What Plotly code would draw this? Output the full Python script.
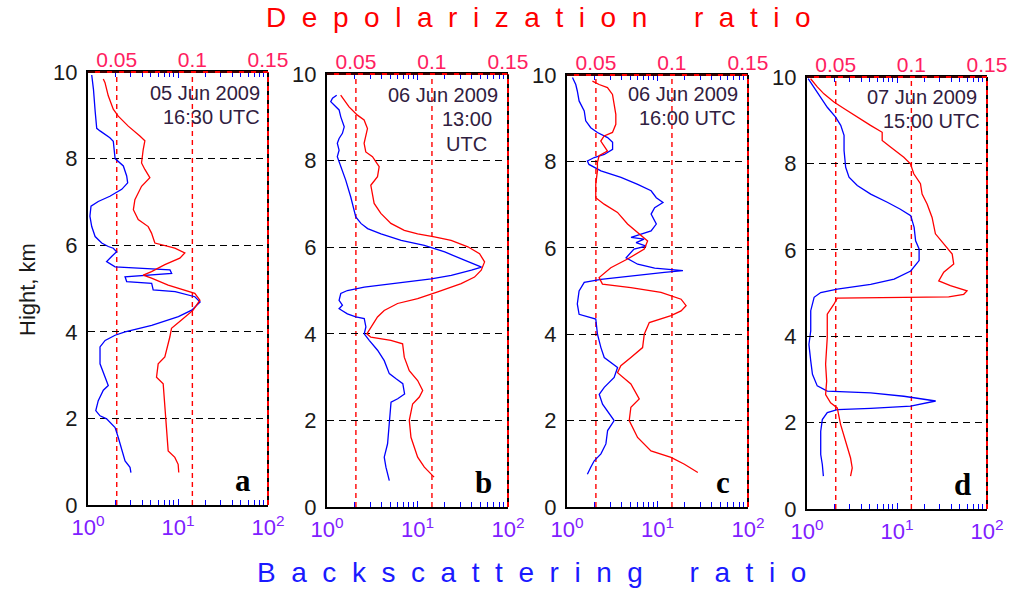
import plotly.graph_objects as go

W, H = 1015, 592

# ---------------- data ----------------
# Panel a: 05 Jun 2009 16:30 UTC
a_bsr_h = [9.93,9.6,9.1,8.7,8.64,8.48,8.4,8.2,8.0,7.83,7.6,7.44,7.29,7.13,7.01,6.9,6.67,6.43,6.2,6.05,
           5.97,5.93,5.85,5.74,5.62,5.5,5.43,5.35,5.27,5.16,5.12,4.97,4.93,4.81,4.69,4.5,4.35,4.15,4.0,3.92,
           3.8,3.65,3.26,2.95,2.76,2.65,2.41,2.18,2.06,1.99,1.79,1.56,1.25,1.02,0.87,0.75]
a_bsr = [1.10,1.15,1.20,1.25,1.36,1.75,1.91,1.96,2.0,2.47,2.69,2.76,2.37,1.75,1.30,1.08,1.05,1.10,1.20,1.42,
         1.68,1.91,2.08,1.83,1.61,2.0,8.15,8.5,2.58,2.69,5.1,5.3,9.3,15.4,17.6,14.2,10.1,5.1,2.58,2.0,
         1.55,1.36,1.36,1.55,1.68,1.48,1.30,1.22,1.36,1.61,2.0,2.17,2.37,2.58,2.93,3.0]
a_dep_h = [9.84,9.76,9.45,9.14,8.98,8.75,8.52,8.41,8.21,7.9,7.75,7.56,7.36,7.05,6.82,6.59,6.43,6.28,6.05,5.93,
           5.82,5.7,5.55,5.39,5.31,5.24,5.08,4.97,4.89,4.73,4.5,4.27,4.08,3.88,3.42,3.26,2.95,2.8,2.34,1.72,
           1.25,1.1,0.94,0.75]
a_dep = [0.0411,0.0422,0.0444,0.0477,0.051,0.0576,0.0653,0.0686,0.0675,0.0664,0.0686,0.0719,0.0664,0.062,0.061,
         0.0642,0.0708,0.073,0.0752,0.0884,0.095,0.0917,0.0818,0.073,0.0675,0.073,0.084,0.095,0.1016,0.105,
         0.1005,0.0928,0.0862,0.0851,0.0818,0.0774,0.0763,0.0807,0.0818,0.0829,0.084,0.0884,0.0906,0.091]

# Panel b: 06 Jun 2009 13:00 UTC
b_bsr_h = [9.51,9.44,9.36,9.28,9.17,9.01,8.78,8.63,8.51,8.4,8.24,8.09,7.86,7.55,7.16,6.85,6.7,6.55,6.43,6.31,
           6.16,6.04,5.89,5.7,5.54,5.47,5.35,5.27,5.16,5.08,5.0,4.93,4.77,4.66,4.58,4.46,4.39,4.35,4.16,4.0,
           3.85,3.62,3.38,3.08,2.96,2.85,2.61,2.5,2.42,2.0,1.46,1.15,0.92,0.61]
b_bsr = [1.28,1.15,1.10,1.20,1.36,1.42,1.55,1.48,1.36,1.30,1.36,1.30,1.42,1.61,1.83,2.0,2.08,2.37,2.81,3.95,
         6.6,11.9,20,33,51,39.5,23.6,14.2,5.1,2.58,1.68,1.42,1.36,1.48,1.36,1.68,2.08,2.58,2.69,2.58,
         2.93,3.62,4.29,4.88,5.8,6.88,7.2,6.04,5.1,4.88,4.67,4.29,4.48,4.88]
b_dep_h = [9.51,9.4,9.24,9.05,8.94,8.74,8.55,8.4,8.2,8.09,7.86,7.63,7.43,7.24,7.01,6.78,6.55,6.39,6.31,6.24,
           6.16,6.01,5.85,5.66,5.47,5.31,5.16,4.97,4.81,4.7,4.54,4.39,4.16,4.0,3.92,3.85,3.77,3.46,3.15,2.92,
           2.69,2.54,2.38,2.0,1.61,1.15,0.92,0.69]
b_dep = [0.040,0.0422,0.0455,0.051,0.0554,0.0576,0.0565,0.0554,0.0565,0.0609,0.0653,0.0642,0.0598,0.0609,0.062,
         0.0664,0.073,0.0818,0.0906,0.1016,0.1126,0.1236,0.1313,0.1346,0.1324,0.128,0.1192,0.1038,0.0906,0.0774,
         0.0686,0.0642,0.0598,0.0572,0.0598,0.073,0.0807,0.0818,0.0851,0.0906,0.0939,0.0917,0.0873,0.0851,0.0862,
         0.0906,0.095,0.1014]

# Panel c: 06 Jun 2009 16:00 UTC
c_bsr_h = [9.94,9.78,9.63,9.4,9.17,8.94,8.78,8.67,8.55,8.44,8.28,8.16,8.09,8.01,7.93,7.78,7.63,7.47,7.32,7.16,
           7.05,6.93,6.78,6.55,6.39,6.31,6.24,6.2,6.12,6.04,5.97,5.77,5.62,5.53,5.47,5.43,5.35,5.27,5.2,5.0,
           4.7,4.46,4.35,4.0,3.69,3.46,3.23,3.0,2.77,2.61,2.38,2.15,2.0,1.77,1.46,1.23,1.07,0.92,0.76]
c_bsr = [1.15,1.25,1.30,1.36,1.55,1.61,1.83,2.17,2.81,3.19,3.19,2.58,2.0,1.68,1.75,2.37,3.95,6.04,8.5,9.7,
         11.5,9.3,8.5,9.7,8.5,6.6,5.1,7.1,5.8,7.5,5.5,4.5,6.04,9.3,19.1,11.9,5.1,2.37,1.55,1.36,
         1.30,1.36,2.08,2.17,2.37,2.58,3.62,3.32,2.58,2.27,2.47,2.93,3.32,2.81,2.69,2.37,2.0,1.83,1.68]
c_dep_h = [9.86,9.78,9.71,9.55,9.32,9.09,8.86,8.67,8.59,8.47,8.24,8.13,7.97,7.78,7.47,7.16,7.01,6.82,6.55,6.35,
           6.16,5.97,5.74,5.54,5.31,5.16,5.08,4.97,4.81,4.66,4.54,4.43,4.27,4.0,3.69,3.46,3.27,3.11,2.85,2.5,
           2.31,2.0,1.61,1.3,1.15,0.99,0.8]
c_dep = [0.0477,0.0521,0.0576,0.0609,0.062,0.0631,0.0631,0.0609,0.0554,0.0532,0.0576,0.0521,0.051,0.051,0.0499,
         0.0499,0.0554,0.0642,0.0708,0.0774,0.084,0.0818,0.0708,0.0598,0.0521,0.0543,0.073,0.0928,0.106,0.1093,
         0.106,0.0994,0.0851,0.0818,0.0807,0.073,0.0664,0.0642,0.073,0.0785,0.073,0.0719,0.0774,0.0862,0.0994,
         0.1082,0.117]

# Panel d: 07 Jun 2009 15:00 UTC
d_bsr_h = [9.96,9.81,9.69,9.54,9.3,9.07,8.88,8.65,8.3,7.91,7.68,7.49,7.29,7.1,6.94,6.79,6.52,6.21,6.02,5.75,
           5.51,5.32,5.2,5.09,5.01,4.9,4.59,4.12,3.81,3.43,3.12,2.85,2.73,2.69,2.61,2.5,2.38,2.33,2.3,2.23,
           2.07,1.8,1.26,1.03,0.76]
d_bsr = [1.03,1.15,1.25,1.42,1.68,2.08,2.37,2.58,2.58,2.69,2.93,3.62,5.1,7.8,10.9,14.2,15.5,16.1,17.6,17.6,
         14.2,9.3,5.1,2.17,1.42,1.20,1.10,1.10,1.05,1.10,1.15,1.30,1.68,5.1,11.9,26.9,14.2,5.1,2.17,1.68,
         1.48,1.42,1.42,1.48,1.52]
d_dep_h = [9.96,9.77,9.61,9.42,9.27,9.07,8.88,8.72,8.53,8.38,8.14,7.99,7.76,7.53,7.29,7.06,6.75,6.37,6.13,5.9,
           5.67,5.48,5.28,5.17,5.05,4.97,4.91,4.9,4.88,4.74,4.51,3.97,3.35,2.96,2.65,2.46,2.34,1.96,1.57,1.18,
           0.95,0.76]
d_dep = [0.0334,0.0378,0.0422,0.0488,0.0554,0.0642,0.073,0.0807,0.0807,0.0862,0.095,0.0994,0.1016,0.106,0.1071,
         0.1104,0.1137,0.1159,0.1214,0.127,0.128,0.1214,0.1181,0.1258,0.1368,0.1346,0.1247,0.095,0.051,0.0488,
         0.0444,0.0444,0.0433,0.044,0.0433,0.0466,0.051,0.0532,0.0565,0.0598,0.0609,0.0598]

panel_letters = ["a", "b", "c", "d"]
date_lines = [["05 Jun 2009", "16:30 UTC"], ["06 Jun 2009", "13:00", "UTC"],
              ["06 Jun 2009", "16:00 UTC"], ["07 Jun 2009", "15:00 UTC"]]
height_ticks = [0, 2, 4, 6, 8, 10]
depol_ticks = [0.05, 0.1, 0.15]
depol_labels = ["0.05", "0.1", "0.15"]
depol_gridvals = [0.05, 0.1]
bsr_major = [1, 10, 100]
bsr_major_labels = ["10<sup>0</sup>", "10<sup>1</sup>", "10<sup>2</sup>"]
bsr_minor = [2, 3, 4, 5, 6, 7, 8, 9, 20, 30, 40, 50, 60, 70, 80, 90]
bsr_range_exp = [0, 2]
depol_range = [0.031, 0.15]

panels = [
    (a_bsr_h, a_bsr, a_dep_h, a_dep),
    (b_bsr_h, b_bsr, b_dep_h, b_dep),
    (c_bsr_h, c_bsr, c_dep_h, c_dep),
    (d_bsr_h, d_bsr, d_dep_h, d_dep),
]

# ---------------- layout geometry (pixels) ----------------
px_x = [(88, 268), (327, 508), (567, 748), (807, 987)]
px_y = [(72, 505), (74, 507), (75, 507), (77, 509)]

def fx(p):
    return p / W

def fy(p):
    return 1 - p / H

FONT = "Liberation Sans, Arial, sans-serif"

fig = go.Figure()
layout = dict(
    width=W, height=H, margin=dict(l=0, r=0, t=0, b=0, autoexpand=False),
    paper_bgcolor="white", plot_bgcolor="white", showlegend=False,
)
shapes = []
annotations = []

for i, (bh, bv, dh, dv) in enumerate(panels):
    k = i + 1
    xb = 2 * i + 1
    xt = 2 * i + 2
    xb_name = "x" if xb == 1 else f"x{xb}"
    xt_name = f"x{xt}"
    yname = "y" if k == 1 else f"y{k}"
    fig.add_trace(go.Scatter(x=bv, y=bh, xaxis=xb_name, yaxis=yname, mode="lines",
                             line=dict(color="#0000ff", width=1.3)))
    fig.add_trace(go.Scatter(x=dv, y=dh, xaxis=xt_name, yaxis=yname, mode="lines",
                             line=dict(color="#ff0000", width=1.3)))
    x0, x1 = px_x[i]
    y0, y1 = px_y[i]
    xdom = [fx(x0), fx(x1)]
    ydom = [fy(y1), fy(y0)]
    layout["xaxis" if xb == 1 else f"xaxis{xb}"] = dict(
        domain=xdom, anchor=yname, type="log", range=bsr_range_exp, automargin=False,
        tickmode="array", tickvals=bsr_major, ticktext=bsr_major_labels,
        ticks="inside", ticklen=6, tickwidth=1.3, tickcolor="#0000ff",
        minor=dict(tickmode="array", tickvals=bsr_minor, ticks="inside", ticklen=5,
                   tickwidth=1.3, tickcolor="#0000ff", showgrid=False),
        mirror="ticks", showline=True, linecolor="black", linewidth=2,
        showgrid=False, zeroline=False,
        tickfont=dict(family=FONT, size=22, color="#8020ff"),
        ticklabelstandoff=2,
    )
    layout[f"xaxis{xt}"] = dict(
        domain=xdom, anchor=yname, overlaying=xb_name, side="top", automargin=False,
        range=depol_range, tickmode="array", tickvals=depol_ticks, ticktext=depol_labels,
        ticks="", showline=False, showgrid=False, zeroline=False,
        tickfont=dict(family=FONT, size=21, color="#ff2060"),
        ticklabelstandoff=0,
    )
    layout["yaxis" if k == 1 else f"yaxis{k}"] = dict(
        domain=ydom, anchor=xb_name, range=[0, 10], tickmode="array", tickvals=height_ticks,
        automargin=False,
        ticks="inside", ticklen=5, tickcolor="black", showline=True, linecolor="black",
        linewidth=2, showgrid=True, gridcolor="black", gridwidth=1.3, griddash="7px,5px",
        zeroline=False, tickfont=dict(family=FONT, size=22, color="#1a1a1a"),
        ticklabelstandoff=4,
    )
    xr = f"{xb_name} domain"
    yr = f"{yname} domain"
    # red dashed depolarization grid lines
    for v in depol_gridvals:
        shapes.append(dict(type="line", xref=xt_name, yref=yr, x0=v, x1=v, y0=0, y1=1,
                           line=dict(color="#ff0000", width=1.4, dash="5px,4px"), layer="below"))
    # right border: black with red dashes, top border: red with black dashes
    shapes += [
        dict(type="line", xref=xr, yref=yr, x0=1, x1=1, y0=0, y1=1,
             line=dict(color="black", width=2), layer="above"),
        dict(type="line", xref=xr, yref=yr, x0=1, x1=1, y0=0, y1=1,
             line=dict(color="#ff0000", width=2, dash="5px,4px"), layer="above"),
        dict(type="line", xref=xr, yref=yr, x0=0, x1=1, y0=1, y1=1,
             line=dict(color="#ff0000", width=2), layer="above"),
        dict(type="line", xref=xr, yref=yr, x0=0, x1=1, y0=1, y1=1,
             line=dict(color="black", width=1.3, dash="7px,5px"), layer="above"),
    ]
    # panel letter
    annotations.append(dict(text=f"<b>{panel_letters[i]}</b>", xref="paper", yref="paper",
                            x=fx(x1 - 25), y=fy(y1 - 25), showarrow=False,
                            font=dict(family="Liberation Serif, Times New Roman, serif", size=31,
                                      color="black"),
                            xanchor="center", yanchor="middle"))

# date / time annotations
date_pos = [
    [(262, 93, "right"), (262, 117, "right")],
    [(500, 95, "right"), (467, 119, "center"), (466, 144, "center")],
    [(740, 94, "right"), (738, 118, "right")],
    [(979, 97, "right"), (982, 121, "right")],
]
for lines, poss in zip(date_lines, date_pos):
    for txt, (px, py, anc) in zip(lines, poss):
        annotations.append(dict(text=txt, xref="paper", yref="paper", x=fx(px), y=fy(py),
                                showarrow=False, xanchor=anc, yanchor="middle",
                                font=dict(family=FONT, size=20, color="#302040")))

NB = "\u00a0"

def spaced(s):
    words = s.split(" ")
    return (NB * 6).join((NB * 2).join(list(w)) for w in words)

annotations.append(dict(text=spaced("Depolarization ratio"), xref="paper", yref="paper",
                        x=fx(538), y=fy(18), showarrow=False, xanchor="center", yanchor="middle",
                        font=dict(family=FONT, size=28, color="#ff0000")))
annotations.append(dict(text=spaced("Backscattering ratio"), xref="paper", yref="paper",
                        x=fx(531), y=fy(572), showarrow=False, xanchor="center", yanchor="middle",
                        font=dict(family=FONT, size=28, color="#1a1aff")))
annotations.append(dict(text="Hight, km", xref="paper", yref="paper", x=fx(27), y=fy(290),
                        showarrow=False, textangle=-90, xanchor="center", yanchor="middle",
                        font=dict(family=FONT, size=22, color="#1a1a1a")))

layout["shapes"] = shapes
layout["annotations"] = annotations
fig.update_layout(**layout)
fig.write_html("out.html", config={"displayModeBar": False},
               post_script="document.body.style.margin='0px';document.body.style.overflow='hidden';")
